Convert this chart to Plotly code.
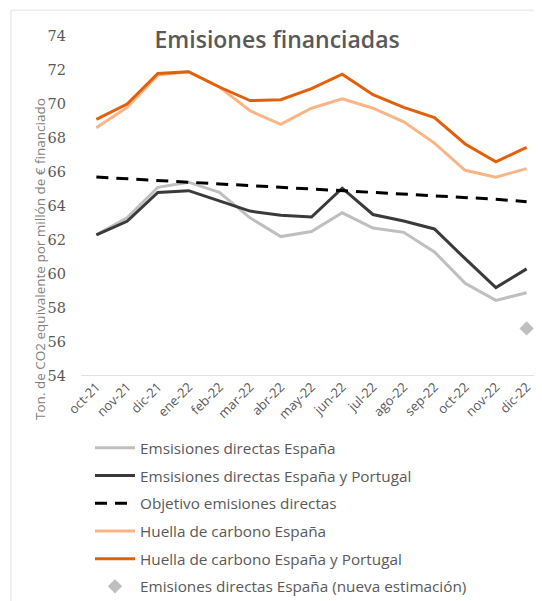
import plotly.graph_objects as go

months = ["oct-21", "nov-21", "dic-21", "ene-22", "feb-22", "mar-22", "abr-22", "may-22",
          "jun-22", "jul-22", "ago-22", "sep-22", "oct-22", "nov-22", "dic-22"]

emis_esp = [62.3, 63.3, 65.1, 65.4, 64.8, 63.3, 62.2, 62.5, 63.6, 62.7, 62.45, 61.3, 59.45, 58.45, 58.9]
emis_esp_pt = [62.3, 63.1, 64.8, 64.9, 64.3, 63.7, 63.45, 63.35, 65.05, 63.5, 63.12, 62.65, 60.9, 59.2, 60.3]
objetivo = [65.7, 65.6, 65.5, 65.4, 65.3, 65.2, 65.1, 65.0, 64.9, 64.8, 64.7, 64.6, 64.5, 64.4, 64.25]
huella_esp = [68.6, 69.8, 71.7, 71.9, 71.0, 69.6, 68.8, 69.75, 70.3, 69.75, 68.95, 67.7, 66.1, 65.7, 66.2]
huella_esp_pt = [69.1, 70.0, 71.8, 71.9, 71.0, 70.2, 70.25, 70.9, 71.75, 70.55, 69.8, 69.2, 67.65, 66.6, 67.45]
nueva_month = ["dic-22"]
nueva_val = [56.8]

y_ticks = [54, 56, 58, 60, 62, 64, 66, 68, 70, 72, 74]

names = ["Emsisiones directas España",
         "Emsisiones directas España y Portugal",
         "Objetivo emisiones directas",
         "Huella de carbono España",
         "Huella de carbono España y Portugal",
         "Emisiones directas España (nueva estimación)"]

fig = go.Figure()
line_series = [
    (emis_esp, "#BFBFBF", "solid"),
    (emis_esp_pt, "#3A3A3A", "solid"),
    (objetivo, "#000000", "12px,8px"),
    (huella_esp, "#FBB585", "solid"),
    (huella_esp_pt, "#E3600A", "solid"),
]
for i, (vals, col, dash) in enumerate(line_series):
    fig.add_trace(go.Scatter(x=months, y=vals, mode="lines", name=names[i],
                             legendgroup=f"g{i}",
                             line=dict(color=col, width=3, dash=dash)))
fig.add_trace(go.Scatter(x=nueva_month, y=nueva_val, mode="markers", name=names[5],
                         legendgroup="g5",
                         marker=dict(symbol="diamond", size=11, color="#BFBFBF")))

# outer chart frame
fig.add_shape(type="rect", xref="paper", yref="paper",
              x0=-0.152, x1=1.03, y0=-0.7, y1=1.076,
              line=dict(color="#E3E3E3", width=1), fillcolor="rgba(0,0,0,0)", layer="below")

fig.add_annotation(text="Ton. de CO2 equivalente por millón de € financiado",
                   xref="paper", yref="paper", x=-0.113, y=0.344, textangle=-90,
                   showarrow=False, font=dict(family="Open Sans", size=13.5, color="#7F7F7F"))

# the page adds an 8px body margin, so the figure is 8px smaller than the window
fig.update_layout(
    width=534, height=593, autosize=False,
    margin=dict(l=73, r=0, t=28, b=225, autoexpand=False),
    plot_bgcolor="white", paper_bgcolor="white",
    title=dict(text="Emisiones financiadas", x=0.504, xref="container", xanchor="center",
               y=1 - 32 / 593, yref="container", yanchor="middle",
               font=dict(family="Open Sans", size=23, color="#595959", weight=600)),
    xaxis=dict(type="category", categoryorder="array", categoryarray=months,
               range=[-0.5, 14.5], tickangle=-45, showgrid=False, zeroline=False,
               showline=False, ticks="", automargin=False,
               tickfont=dict(family="Open Sans", size=13, color="#595959")),
    yaxis=dict(range=[54, 74], tickvals=y_ticks, showgrid=False, zeroline=False,
               showline=False, ticks="", ticklabelstandoff=14, automargin=False,
               tickfont=dict(family="DejaVu Serif", size=14.5, color="#595959")),
    showlegend=True,
    legend=dict(x=0.0195, xanchor="left", y=-0.163, yanchor="top",
                xref="paper", yref="paper", tracegroupgap=4.8, itemwidth=40,
                font=dict(family="Open Sans", size=15.3, color="#595959"),
                bgcolor="rgba(0,0,0,0)"),
    hovermode=False,
)
# bottom axis line at 54
fig.add_shape(type="line", xref="paper", yref="y", x0=0, x1=1, y0=54, y1=54,
              line=dict(color="#D9D9D9", width=1.5), layer="below")

fig.write_html("out.html")
